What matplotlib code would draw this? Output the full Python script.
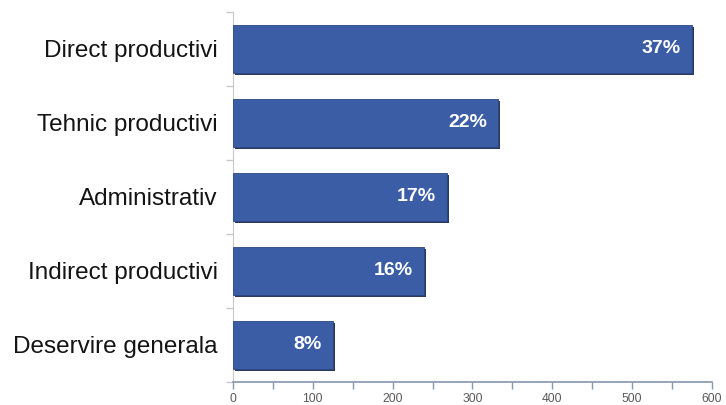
import matplotlib
matplotlib.use('Agg')
import matplotlib.pyplot as plt
import matplotlib.patheffects as pe
from matplotlib.ticker import MultipleLocator

# data, top to bottom as in the picture
categories = ['Direct productivi', 'Tehnic productivi', 'Administrativ',
              'Indirect productivi', 'Deservire generala']
values = [575, 332, 268, 239, 125]
pct_labels = ['37%', '22%', '17%', '16%', '8%']
x_ticks = [0, 100, 200, 300, 400, 500, 600]

plt.rcParams['font.family'] = ['Liberation Sans', 'DejaVu Sans']

fig = plt.figure(figsize=(7.26, 4.05), dpi=100)
ax = fig.add_axes([0.3209, 0.0568, 0.6598, 0.9136])

ypos = list(range(len(categories)))
bars = ax.barh(ypos, values, height=0.65, color='#3A5DA6',
               edgecolor='#2B4780', linewidth=0.6, zorder=3)
for b in bars:
    b.set_path_effects([pe.SimplePatchShadow(offset=(1.5, -1.2), shadow_rgbFace='#16244A', alpha=0.9),
                        pe.Normal()])

# percent labels inside the bar ends
for y, v, lab in zip(ypos, values, pct_labels):
    ax.annotate(lab, xy=(v, y), xytext=(-8, 0.5), textcoords='offset points',
                ha='right', va='center', color='white', fontsize=14,
                fontweight='bold', zorder=4)

ax.set_xlim(0, 600)
ax.set_ylim(len(categories) - 0.5, -0.5)

# x axis: labels every 100, ticks every 50
ax.set_xticks(x_ticks)
ax.xaxis.set_minor_locator(MultipleLocator(50))
ax.tick_params(axis='x', which='both', direction='out', length=5, width=1,
               color='#8696AE', labelsize=8.7, labelcolor='#595959', pad=3)

# y axis: ticks between categories, labels centred on bars
ax.set_yticks([y - 0.5 for y in ypos] + [len(categories) - 0.5])
ax.set_yticklabels([])
ax.set_yticks(ypos, minor=True)
ax.set_yticklabels(categories, minor=True)
ax.tick_params(axis='y', which='major', direction='out', length=5, width=1, color='#C8C8C8')
ax.tick_params(axis='y', which='minor', length=0, labelsize=17.5, labelcolor='#141414', pad=11)

for s in ['top', 'right']:
    ax.spines[s].set_visible(False)
ax.spines['left'].set_color('#C8C8C8')
ax.spines['bottom'].set_color('#8696AE')
ax.spines['bottom'].set_linewidth(1.2)

fig.savefig('out.png', dpi=100)
